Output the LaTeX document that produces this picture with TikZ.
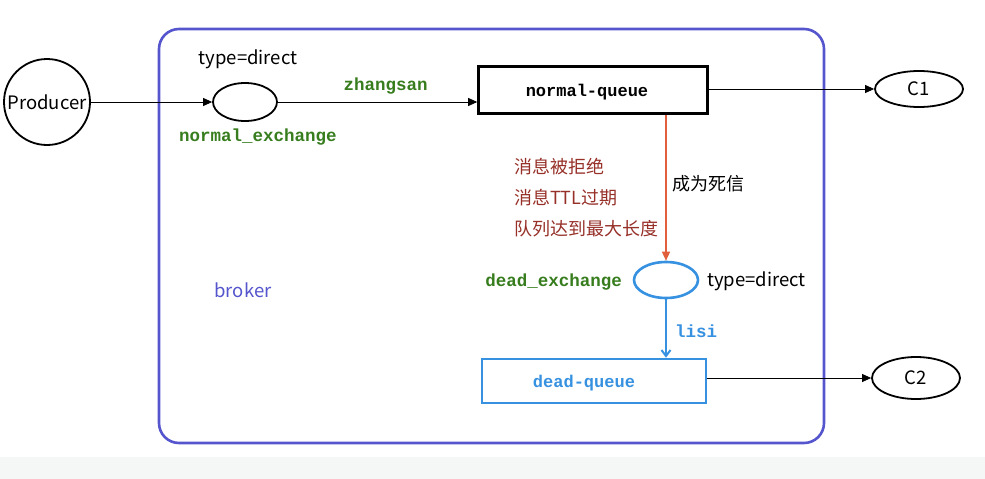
\documentclass[tikz,border=0pt]{standalone}
\usepackage{fontspec}
\setmainfont{Noto Sans CJK SC}
\setmonofont{Liberation Mono}
\usetikzlibrary{arrows.meta,shapes.geometric}
\definecolor{brk}{RGB}{85,85,205}
\definecolor{grn}{RGB}{55,125,30}
\definecolor{dblue}{RGB}{55,145,225}
\definecolor{redl}{RGB}{225,95,60}
\definecolor{dred}{RGB}{150,48,40}
\definecolor{strip}{RGB}{245,246,246}
\tikzset{
  sanstxt/.style={font=\fontsize{18.5}{21}\selectfont, inner sep=0pt},
  cjktxt/.style={font=\fontsize{18}{21}\selectfont, inner sep=0pt},
  monotxt/.style={font=\ttfamily\bfseries\fontsize{17.5}{20}\selectfont, inner sep=0pt},
  oval/.style={ellipse, draw, line width=1.8pt, inner sep=0pt},
  qbox/.style={rectangle, draw, line width=2.6pt, inner sep=0pt},
  conn/.style={line width=0.8pt, -{Triangle[length=9pt,width=8pt]}},
}
\begin{document}
\begin{tikzpicture}[x=1pt,y=-1pt]
\useasboundingbox (0,0) rectangle (985,479);
\fill[white] (0,0) rectangle (985,479);
\fill[strip] (0,457) rectangle (985,479);
% broker frame
\draw[brk, line width=2.6pt, rounded corners=20pt] (159,29) rectangle (824,443);
\node[sanstxt, text=brk] (broker) at (243,290) {broker};
% producer
\node[circle, draw, line width=1.8pt, minimum size=86pt, inner sep=0pt, font=\fontsize{18.5}{21}\selectfont] (prod) at (47,102) {Producer};
% normal exchange
\node[oval, minimum width=64pt, minimum height=38pt] (nex) at (245,102) {};
\node[sanstxt] (ntype) at (248,59) {type=direct};
\node[monotxt, text=grn] (nexl) at (258,137) {normal\_exchange};
% normal queue
\node[qbox, minimum width=229pt, minimum height=47pt] (nq) at (593,90) {};
\node[monotxt, font=\ttfamily\bfseries\fontsize{17}{20}\selectfont] (nql) at (587,92) {normal-queue};
% C1
\node[oval, minimum width=88pt, minimum height=36pt, font=\fontsize{18.5}{21}\selectfont] (c1) at (919,89) {C1};
% dead exchange
\node[oval, draw=dblue, line width=2.6pt, minimum width=64pt, minimum height=36pt] (dex) at (666,280) {};
\node[monotxt, text=grn, anchor=east] (dexl) at (622,282) {dead\_exchange};
\node[sanstxt, anchor=west] (dtype) at (707,281) {type=direct};
% dead queue
\node[qbox, draw=dblue, minimum width=224pt, minimum height=44pt] (dq) at (594,381) {};
\node[monotxt, text=dblue, font=\ttfamily\bfseries\fontsize{17}{20}\selectfont] (dql) at (584,383) {dead-queue};
% C2
\node[oval, minimum width=88pt, minimum height=42pt, font=\fontsize{18.5}{21}\selectfont] (c2) at (916,378) {C2};
% reasons
\node[cjktxt, text=dred, anchor=west] (r1) at (514,167) {消息被拒绝};
\node[cjktxt, text=dred, anchor=west] (r2) at (514,198) {消息TTL过期};
\node[cjktxt, text=dred, anchor=west] (r3) at (514,229) {队列达到最大长度};
\node[cjktxt, anchor=west] (dead) at (672,184) {成为死信};
% connectors
\draw[conn] (prod.east) -- (nex.west);
\draw[conn] (nex.east) -- node[pos=0.54, monotxt, text=grn, above=7pt] (zs) {zhangsan} (nex.east -| nq.west);
\draw[conn] (nq.east |- c1.west) -- (c1.west);
\draw[conn, redl, line width=1.2pt] (nq.south -| dex.north) -- (dex.north);
\draw[conn, dblue, line width=2pt, -{Straight Barb[length=6pt,width=9pt]}] (dex.south) -- node[monotxt, text=dblue, right=8pt, yshift=-3pt] (ls) {lisi} (dex.south |- dq.north);
\draw[conn] (dq.east |- c2.west) -- (c2.west);
\end{tikzpicture}
\end{document}
